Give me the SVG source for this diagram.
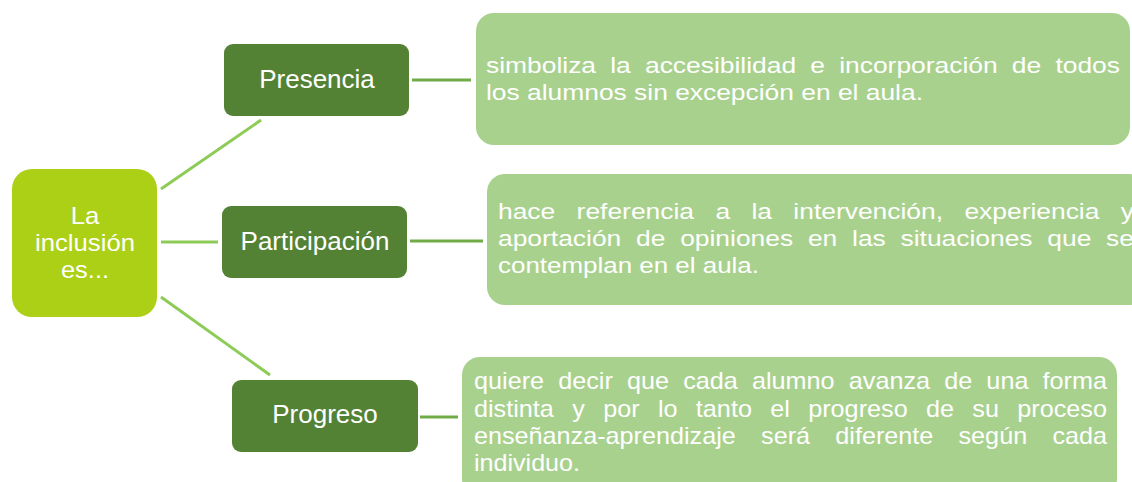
<svg xmlns="http://www.w3.org/2000/svg" width="1132" height="482" viewBox="0 0 1132 482">
<style>
.main{fill:#ACD015}
.node{fill:#548235}
.desc{fill:#A9D18E}
.c1{stroke:#8DCB57;stroke-width:3;fill:none}
.c2{stroke:#6FAC46;stroke-width:3;fill:none}
text{font-family:"Liberation Sans",Arial,sans-serif;fill:#FFFFFF}
.t26{font-size:26px;text-anchor:middle}
.t24c{font-size:24px;text-anchor:middle}
.t22{font-size:22px}
.t24{font-size:24px}
</style>
<rect width="1132" height="482" fill="#FFFFFF"/>
<g id="connectors">
<line class="c1" x1="161" y1="189" x2="261" y2="120"/>
<line class="c1" x1="161" y1="242" x2="218" y2="242"/>
<line class="c1" x1="161" y1="297" x2="270" y2="375"/>
<line class="c2" x1="412" y1="80" x2="471" y2="80"/>
<line class="c2" x1="410" y1="241" x2="483" y2="241"/>
<line class="c2" x1="420" y1="417" x2="458" y2="417"/>
</g>
<g id="node-main">
<rect class="main" x="12" y="169" width="145" height="148" rx="20"/>
<text class="t24c" x="85" y="224" textLength="28.5" lengthAdjust="spacingAndGlyphs">La</text>
<text class="t24c" x="85" y="251" textLength="100" lengthAdjust="spacingAndGlyphs">inclusión</text>
<text class="t24c" x="85" y="278" textLength="48" lengthAdjust="spacingAndGlyphs">es...</text>
</g>
<g id="node-presencia">
<rect class="node" x="224" y="44" width="185" height="72" rx="9"/>
<text class="t26" x="317" y="88">Presencia</text>
</g>
<g id="node-participacion">
<rect class="node" x="222" y="206" width="185" height="72" rx="9"/>
<text class="t26" x="315" y="250">Participación</text>
</g>
<g id="node-progreso">
<rect class="node" x="232" y="380" width="186" height="72" rx="9"/>
<text class="t26" x="325" y="423">Progreso</text>
</g>
<g id="desc-presencia">
<rect class="desc" x="476" y="13" width="654" height="132" rx="18"/>
<text class="t22" x="486" y="73" textLength="634" lengthAdjust="spacingAndGlyphs" style="word-spacing:5.7px">simboliza la accesibilidad e incorporación de todos</text>
<text class="t22" x="486" y="100" textLength="437" lengthAdjust="spacingAndGlyphs">los alumnos sin excepción en el aula.</text>
</g>
<g id="desc-participacion">
<rect class="desc" x="487" y="174" width="660" height="131" rx="18"/>
<text class="t22" x="498" y="219" textLength="636" lengthAdjust="spacingAndGlyphs" style="word-spacing:11.7px">hace referencia a la intervención, experiencia y</text>
<text class="t22" x="498" y="246" textLength="636" lengthAdjust="spacingAndGlyphs" style="word-spacing:6.2px">aportación de opiniones en las situaciones que se</text>
<text class="t22" x="498" y="273" textLength="261" lengthAdjust="spacingAndGlyphs">contemplan en el aula.</text>
</g>
<g id="desc-progreso">
<rect class="desc" x="462" y="357" width="655" height="140" rx="18"/>
<text class="t24" x="474" y="389" textLength="633" lengthAdjust="spacingAndGlyphs" style="word-spacing:6.8px">quiere decir que cada alumno avanza de una forma</text>
<text class="t24" x="474" y="417" textLength="633" lengthAdjust="spacingAndGlyphs" style="word-spacing:10.8px">distinta y por lo tanto el progreso de su proceso</text>
<text class="t24" x="474" y="444" textLength="633" lengthAdjust="spacingAndGlyphs" style="word-spacing:17.4px">enseñanza-aprendizaje será diferente según cada</text>
<text class="t24" x="474" y="471" textLength="106" lengthAdjust="spacingAndGlyphs">individuo.</text>
</g>
</svg>
